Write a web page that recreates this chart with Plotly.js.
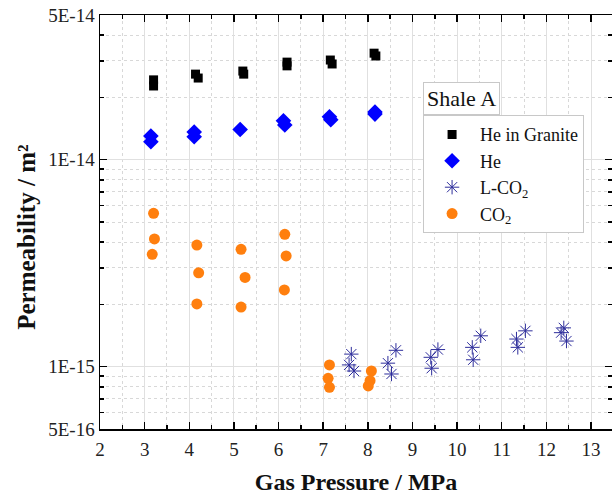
<!DOCTYPE html>
<html>
<head>
<meta charset="utf-8">
<script src="https://cdn.plot.ly/plotly-3.0.1.min.js"></script>
<style>html,body{margin:0;padding:0;background:#fff;}#chart{width:612px;height:498px;}</style>
</head>
<body>
<div id="chart"></div>
<script>
// He in Granite
const graniteX = [3.20, 3.20, 4.14, 4.20, 5.20, 5.22, 6.19, 6.19, 7.16, 7.20, 8.14, 8.18];
const graniteY = [2.43e-14, 2.27e-14, 2.59e-14, 2.48e-14, 2.68e-14, 2.59e-14, 2.96e-14, 2.84e-14, 3.03e-14, 2.90e-14, 3.27e-14, 3.17e-14];
// He
const heX = [3.14, 3.14, 4.11, 4.11, 5.14, 6.11, 6.14, 7.14, 7.17, 8.16, 8.16];
const heY = [1.30e-14, 1.22e-14, 1.36e-14, 1.29e-14, 1.40e-14, 1.54e-14, 1.47e-14, 1.61e-14, 1.56e-14, 1.70e-14, 1.66e-14];
// L-CO2
const lco2X = [7.63, 7.58, 7.69, 8.45, 8.53, 8.63, 9.41, 9.43, 9.57, 10.34, 10.36, 10.53, 11.33, 11.36, 11.53, 12.33, 12.39, 12.45];
const lco2Y = [1.15e-15, 1.02e-15, 9.53e-16, 1.04e-15, 9.22e-16, 1.20e-15, 1.11e-15, 9.83e-16, 1.21e-15, 1.24e-15, 1.08e-15, 1.41e-15, 1.36e-15, 1.24e-15, 1.49e-15, 1.46e-15, 1.54e-15, 1.33e-15];
// CO2
const co2X = [3.20, 3.22, 3.17, 4.17, 4.21, 4.17, 5.16, 5.25, 5.16, 6.14, 6.17, 6.13, 7.14, 7.11, 7.14, 8.08, 8.05, 8.01];
const co2Y = [5.51e-15, 4.14e-15, 3.49e-15, 3.87e-15, 2.84e-15, 2.01e-15, 3.69e-15, 2.70e-15, 1.94e-15, 4.36e-15, 3.43e-15, 2.35e-15, 1.02e-15, 8.79e-16, 7.95e-16, 9.53e-16, 8.56e-16, 8.07e-16];

const seriesNames = ['He in Granite', 'He', 'L-CO<sub>2</sub>', 'CO<sub>2</sub>'];
const legendTitle = 'Shale A';

// Axis ticks
const yTickVals = [5e-16, 1e-15, 1e-14, 5e-14];
const yTickText = ['5E-16', '1E-15', '1E-14', '5E-14'];
const yMinorVals = [6e-16, 7e-16, 8e-16, 9e-16, 2e-15, 3e-15, 4e-15, 5e-15, 6e-15, 7e-15, 8e-15, 9e-15, 2e-14, 3e-14, 4e-14];
const xTitle = 'Gas Pressure / MPa';
const yTitle = 'Permeability / m\u00B2';

const serif = 'Liberation Serif, Times New Roman, serif';

const traces = [
  {x: graniteX, y: graniteY, name: seriesNames[0], type: 'scatter', mode: 'markers',
   marker: {symbol: 'square', size: 9, color: '#000000'}},
  {x: heX, y: heY, name: seriesNames[1], type: 'scatter', mode: 'markers',
   marker: {symbol: 'diamond', size: 12, color: '#0000ff'}},
  {x: lco2X, y: lco2Y, name: seriesNames[2], type: 'scatter', mode: 'markers',
   marker: {symbol: 'asterisk-open', size: 12, color: '#2e2e9c', line: {color: '#2e2e9c', width: 1}}},
  {x: co2X, y: co2Y, name: seriesNames[3], type: 'scatter', mode: 'markers',
   marker: {symbol: 'circle', size: 11, color: '#ff7f0e'}}
];

const layout = {
  width: 612, height: 498,
  margin: {l: 100, r: 0, t: 15, b: 69},
  paper_bgcolor: '#ffffff', plot_bgcolor: '#ffffff',
  font: {family: serif, size: 19, color: '#222'},
  showlegend: true,
  legend: {
    x: 0.631, y: 0.758, xanchor: 'left', yanchor: 'top',
    bordercolor: '#c8c8c8', borderwidth: 1, bgcolor: '#ffffff',
    font: {family: serif, size: 18, color: '#111'},
    itemwidth: 46, tracegroupgap: 0
  },
  annotations: [{
    text: legendTitle, xref: 'paper', yref: 'paper', x: 0.631, y: 0.758,
    xanchor: 'left', yanchor: 'bottom', showarrow: false,
    font: {family: serif, size: 22, color: '#111'},
    bordercolor: '#c8c8c8', borderwidth: 1, borderpad: 3, bgcolor: '#ffffff'
  }, {
    text: yTitle, xref: 'paper', yref: 'paper', x: -0.145, y: 0.5, yshift: -15,
    xanchor: 'center', yanchor: 'middle', textangle: -90, showarrow: false,
    font: {family: serif, size: 25, color: '#111', weight: 'bold'}
  }],
  xaxis: {
    range: [2, 13.47], tick0: 2, dtick: 1,
    showline: true, linecolor: '#000', linewidth: 1.5, mirror: 'ticks',
    ticks: 'inside', ticklen: 7, tickwidth: 1.5, tickcolor: '#000',
    showgrid: true, gridcolor: '#e0e0e0', gridwidth: 1,
    zeroline: false, ticklabelstandoff: 3,
    tickfont: {family: serif, size: 19, color: '#222'},
    minor: {dtick: 0.5, tick0: 2, ticks: 'inside', ticklen: 4, tickwidth: 1.5, tickcolor: '#000',
            showgrid: true, gridcolor: '#d8d8d8', griddash: 'dot', gridwidth: 1},
    title: {text: xTitle, font: {family: serif, size: 24, color: '#111', weight: 'bold'}, standoff: 14}
  },
  yaxis: {
    type: 'log', range: [Math.log10(5e-16), Math.log10(5e-14)],
    tickmode: 'array', tickvals: yTickVals, ticktext: yTickText,
    showline: true, linecolor: '#000', linewidth: 1.5, mirror: 'ticks',
    ticks: 'inside', ticklen: 7, tickwidth: 1.5, tickcolor: '#000',
    showgrid: true, gridcolor: '#e0e0e0', gridwidth: 1,
    zeroline: false,
    tickfont: {family: serif, size: 19, color: '#222'},
    minor: {tickmode: 'array', tickvals: yMinorVals, ticks: 'inside', ticklen: 4, tickwidth: 1.5, tickcolor: '#000',
            showgrid: true, gridcolor: '#d8d8d8', griddash: 'dot', gridwidth: 1}
  }
};

Plotly.newPlot('chart', traces, layout, {displayModeBar: false, staticPlot: true});
</script>
</body>
</html>
